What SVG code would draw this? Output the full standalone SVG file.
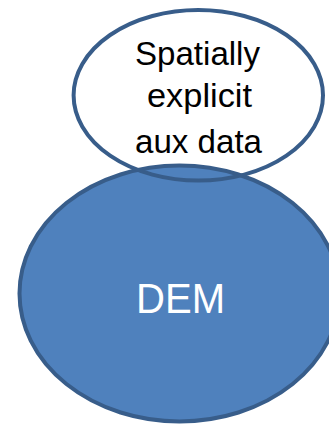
<svg xmlns="http://www.w3.org/2000/svg" width="329" height="427" viewBox="0 0 329 427">
  <style>
    .outline { stroke: #385D8A; stroke-width: 4; }
    .label { font-family: "Liberation Sans", Arial, sans-serif; text-anchor: middle; }
    .dark { fill: #000000; font-size: 33px; }
    .light { fill: #FFFFFF; font-size: 43px; }
  </style>
  <rect x="0" y="0" width="329" height="427" fill="#FFFFFF"/>

  <!-- DEM: filled ellipse, drawn first so the aux outline crosses over it -->
  <g id="dem">
    <ellipse class="outline" cx="179.5" cy="293.5" rx="160" ry="128" fill="#4F81BD"/>
    <text class="label light" x="180.5" y="312.7" textLength="89" lengthAdjust="spacingAndGlyphs">DEM</text>
  </g>

  <!-- Spatially explicit aux data: outline-only ellipse on top -->
  <g id="aux-data">
    <ellipse class="outline" cx="198.3" cy="95.3" rx="124.7" ry="85.3" fill="none"/>
    <text class="label dark" x="197.5" y="65" textLength="125" lengthAdjust="spacingAndGlyphs">Spatially</text>
    <text class="label dark" x="199.5" y="107.3" textLength="105" lengthAdjust="spacingAndGlyphs">explicit</text>
    <text class="label dark" x="198.5" y="152.7" textLength="127" lengthAdjust="spacingAndGlyphs">aux data</text>
  </g>

  <g id="connectors"></g>
</svg>
